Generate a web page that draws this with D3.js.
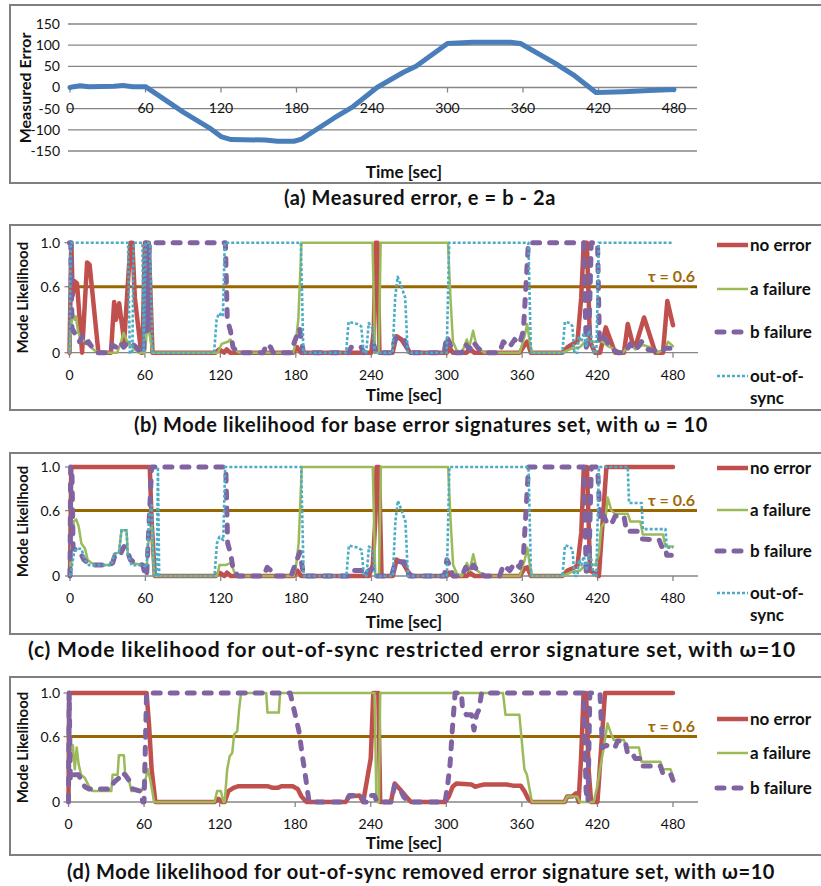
<!DOCTYPE html>
<html>
<head>
<meta charset="utf-8">
<script src="https://cdn.jsdelivr.net/npm/d3@7"></script>
<style>
  body { margin: 0; background: #fff; }
  svg { display: block; font-family: Lato, "Open Sans", sans-serif; }
</style>
</head>
<body>
<svg width="821" height="886"></svg>
<script>
const svg = d3.select("svg");

// ---- data ----
const timeTicks = [0, 60, 120, 180, 240, 300, 360, 420, 480];
const errorTicks = [-150, -100, -50, 0, 50, 100, 150];
const likeTicks = [0, 0.6, 1.0];
const tau = 0.6;
const seriesNames = ["no error", "a failure", "b failure", "out-of-sync"];

// (a) measured error [t, e]
const measuredError = [[0,0],[3,2],[8,4],[15,2],[35,3],[42,5],[50,2],[60,2],[90,-58],[112,-98],[120,-116],[128,-123],
  [155,-124],[165,-127],[178,-127],[184,-122],[210,-72],[225,-45],[244,0],[265,36],[275,50],[300,104],[320,107],
  [350,107],[358,104],[385,58],[400,30],[418,-12],[440,-10],[460,-7],[480,-5]];

// (b) base error signatures set
const bNoError = [[0,0],[1.5,1],[2.5,0.52],[4,0.65],[6,0.63],[10,0],[14,0.82],[16,0.8],[23,0],[33,0],[35.5,0.46],[37,0.3],
  [39.5,0.45],[43.5,0.1],[48.5,1],[50,1],[52,0.5],[57,0],[58,0],[60,1],[63,1],[66,0],[116,0],[119,0.03],[123,0],[125,0.03],
  [128,0],[178,0],[181,0.05],[184,0],[240,0],[242,0.2],[243.5,1],[245,1],[246.5,0],[257,0],[260,0.15],[264,0.12],[268,0.05],
  [271,0],[300,0],[302,0.05],[305,0],[316,0],[318,0.04],[322,0],[358,0],[362,0.07],[364,0.1],[367,0],[392,0],[396,0.05],
  [402,0.09],[404,0.1],[407,0.5],[409,1],[411.5,1],[414,0.1],[418,0],[422,0],[426.5,0.23],[434,0],[441,0],[444,0.26],
  [448,0.08],[450,0.05],[457,0.32],[466,0],[472,0],[475.5,0.47],[480,0.25]];
const bAFailure = [[0,0],[1,0.2],[2.5,0.37],[4,0.3],[5,0.33],[7,0.18],[10,0.12],[14,0.08],[20,0.02],[24,0],[38,0],[41,0.1],
  [43,0.18],[46,0.1],[50,0.05],[55,0],[60,0],[62,0.25],[64,0.15],[66,0],[118,0],[121,0.08],[126,0.1],[128,0.12],[131,0.03],
  [135,0],[178,0],[180,0.1],[182,0.3],[184.5,1],[241,1],[243,0],[246,0],[247.5,1],[301,1],[303,0.5],[305,0.1],[308,0.02],
  [312,0],[316,0.12],[318,0.05],[321,0.2],[324,0.05],[330,0],[358,0],[362,0.15],[364,0.26],[366,0.1],[368,0],[392,0],
  [400,0.04],[406,0.05],[410,0.1],[418,0.1],[424,0.1],[428,0.06],[434,0.03],[440,0],[446,0.08],[450,0.03],[456,0.07],
  [462,0.05],[468,0],[474,0.04],[476,0.1],[480,0.06]];
const bBFailure = [[0,1],[1,1],[2,0.22],[4,0.18],[6,0.15],[8,0.1],[10,0.15],[12,0.08],[15,0.1],[18,0.05],[22,0],[32,0],
  [34,0.07],[37,0.05],[40,0.1],[43,0.05],[47,0.1],[50,0.08],[53,0.05],[57,0],[59,0],[61,1],[62,0.2],[63.5,1],[124,1],
  [125.5,0.3],[128,0.2],[130,0.05],[134,0],[154,0],[157,0.08],[160,0.05],[162,0],[176,0],[179,0.1],[183,0.22],[186,0],
  [222,0],[224,0.05],[232,0.05],[234,0],[238,0.05],[242,0.07],[244,0],[256,0],[259,0.13],[266,0.13],[270,0],[298,0],
  [300,0.15],[302,0.1],[305,0],[312,0],[315,0.08],[318,0.03],[321,0.1],[325,0.04],[330,0],[342,0],[345,0.1],[350,0.05],
  [354,0.12],[358,0.08],[361,0.2],[365,1],[409,1],[411,0.05],[413,0.1],[415,1],[420,1],[421.5,0.1],[425,0.15],[430,0.05],
  [436,0],[442,0],[446,0.08],[450,0.02],[455,0.1],[460,0.03],[465,0.02],[470,0],[474,0.04],[480,0.04]];
const bOutOfSync = [[0,0],[1,1],[46.5,1],[48,0],[50,0],[51,1],[58,1],[59,0],[60.5,1],[64,1],[66,0],[115,0],[117,0.3],
  [119,0.36],[122,0.33],[123.5,1],[184,1],[186,0],[220,0],[222,0.28],[229,0.26],[232,0.24],[234,0],[236,0],[238,0.27],
  [241,0.22],[243,0],[257,0],[259,0.5],[261,0.69],[264,0.6],[267,0.5],[269,0],[300,0],[302,1],[365,1],[367,0],[392,0],
  [394,0.28],[398,0.27],[400,0.24],[401.5,0],[404,0],[405,0.15],[407,0.1],[409,0.18],[411,0.05],[413,0.2],[415,0.15],
  [417,0],[419,0],[421,1],[480,1]];

// (c) out-of-sync restricted error signature set
const cNoError = [[0,0],[1,1],[63.5,1],[65,0.5],[67.5,0],[116,0],[119,0.03],[123,0],[125,0.03],[128,0],[178,0],[181,0.05],
  [184,0],[238,0],[241,0.1],[243,0.5],[244,1],[246,1],[248,0],[257,0],[260,0.15],[265,0.12],[269,0.04],[272,0],[300,0],
  [302,0.03],[305,0],[316,0],[318,0.03],[322,0],[358,0],[362,0.07],[364,0.08],[367,0],[392,0],[396,0.05],[402,0.08],
  [404,0.1],[407,0.4],[409,1],[411.5,1],[414,0.05],[421,0],[424,0.5],[427,1],[480,1]];
const cAFailure = [[0,0],[1,0.3],[3,0.5],[5,0.52],[7,0.45],[9,0.3],[12,0.25],[14,0.15],[17,0.12],[22,0.1],[33,0.1],[35,0.2],
  [39,0.22],[41,0.42],[45,0.42],[46,0.2],[49,0.12],[58,0.1],[61,0.08],[63,0.4],[65,0.45],[67,0],[117,0],[119,0.1],[124,0.1],
  [128,0.12],[131,0.03],[134,0],[178,0],[180,0.1],[182,0.3],[184.5,1],[241,1],[243,0],[246,0],[247.5,1],[301,1],[303,0.5],
  [305,0.1],[308,0.02],[312,0],[316,0.12],[318,0.05],[321,0.2],[324,0.05],[330,0],[358,0],[362,0.15],[364,0.26],[366,0.1],
  [368,0],[392,0],[400,0.04],[406,0.05],[410,0.1],[418,0.1],[421,0.2],[423,0.45],[426,0.5],[428,0.72],[431,0.6],[434,0.57],
  [444,0.57],[446,0.5],[454,0.5],[456,0.38],[472,0.38],[474,0.27],[480,0.27]];
const cBFailure = [[0,0],[0.5,1],[1.5,1],[2.5,0.25],[5,0.24],[8,0.22],[11,0.15],[14,0.12],[20,0.1],[30,0.1],[34,0.12],
  [36,0.2],[40,0.2],[43,0.27],[46,0.22],[48,0.15],[52,0.12],[58,0.1],[60,0],[61,0],[63,0.5],[65,1],[124,1],[125.5,0.3],
  [128,0.2],[130,0.05],[134,0],[154,0],[157,0.08],[160,0.05],[162,0],[176,0],[179,0.1],[183,0.22],[186,0],[222,0],
  [224,0.05],[232,0.05],[234,0],[238,0.05],[242,0.07],[244,0],[256,0],[259,0.13],[266,0.13],[270,0],[298,0],[300,0.15],
  [302,0.1],[305,0],[312,0],[315,0.08],[318,0.03],[321,0.1],[325,0.04],[330,0],[342,0],[345,0.1],[350,0.05],[354,0.12],
  [358,0.08],[361,0.2],[365,1],[409,1],[411,0],[413,0.1],[415,1],[420,1],[422,0.5],[425,0.55],[428,0.47],[432,0.5],
  [434,0.55],[441,0.55],[443,0.41],[452,0.41],[455,0.34],[469,0.33],[471,0.27],[474,0.27],[475,0.19],[480,0.19]];
const cOutOfSync = [[0,0],[1,0.05],[3,0.2],[5,0.25],[9,0.25],[12,0.15],[15,0.1],[33,0.1],[35,0.2],[39,0.22],[41,0.42],
  [45,0.42],[46,0.2],[49,0.1],[58,0.1],[61,0.08],[63,0.55],[65,0.65],[67,0],[69,0],[70,1],[71,0],[115,0],[117,0.3],
  [119,0.36],[122,0.33],[123.5,1],[184,1],[186,0],[220,0],[222,0.28],[229,0.26],[232,0.24],[234,0],[236,0],[238,0.27],
  [241,0.22],[243,0],[257,0],[259,0.5],[261,0.69],[264,0.6],[267,0.5],[269,0],[300,0],[302,1],[365,1],[367,0],[392,0],
  [394,0.28],[398,0.27],[400,0.24],[401.5,0],[404,0],[405,0.15],[407,0.1],[409,0.18],[411,0.05],[413,0.2],[415,0.15],
  [417,0],[419,0],[421,1],[444,1],[445,0.67],[455,0.67],[456,0.43],[474,0.43],[475,0.26],[480,0.26]];

// (d) out-of-sync removed error signature set
const dNoError = [[0,0],[0.5,1],[62,1],[64,0.7],[66,0.3],[69,0],[116,0],[119,0.03],[122,0],[124,0],[127,0.1],[131,0.13],
  [135,0.145],[158,0.145],[162,0.13],[166,0.13],[169,0.145],[178,0.145],[182,0.12],[185,0.05],[189,0],[220,0],[223,0.05],
  [231,0.06],[234,0],[237,0.2],[240,0.4],[242,1],[246,1],[247.5,0],[256,0],[259,0.17],[263,0.12],[268,0.05],[272,0],
  [299,0],[302,0.05],[305,0.14],[308,0.17],[320,0.16],[323,0.14],[326,0.15],[330,0.16],[348,0.16],[353,0.15],[359,0.15],
  [362,0.1],[365,0.03],[368,0],[394,0],[396,0.05],[400,0.05],[403,0.08],[405,0],[407,0.4],[409,1],[411,1],[413,0.3],
  [415,0],[420,0],[423,0.5],[426,1],[480,1]];
const dAFailure = [[0,0.9],[1,0.7],[2,0.4],[3.5,0.52],[5,0.3],[6.5,0.5],[8,0.35],[10,0.25],[13,0.22],[16,0.15],[19,0.1],
  [34,0.1],[35,0.25],[39,0.25],[40,0.43],[44,0.43],[45,0.25],[48,0.2],[50,0.1],[58,0.1],[61,0.2],[63,0.3],[65,0.2],[68,0],
  [116,0],[118,0.1],[121,0.1],[123,0],[124,0],[126,0.3],[128,0.42],[130,0.45],[131.5,0.62],[134,0.65],[135.5,0.85],[137,1],
  [157,1],[158,0.82],[167,0.82],[168,1],[243,1],[244.5,0],[246.5,0],[247.5,1],[345,1],[347,0.8],[358,0.8],[362,0.3],
  [364,0.25],[368,0],[394,0],[396,0.05],[404,0.05],[406,0],[417,0],[420,0.15],[422,0.3],[425,0.5],[428,0.72],[431,0.62],
  [433,0.57],[441,0.57],[443,0.5],[453,0.5],[455,0.37],[470,0.37],[472,0.3],[478,0.3],[480,0.24]];
const dBFailure = [[0,0],[0.5,1],[1.5,0.2],[3,0.25],[8,0.25],[10,0.2],[13,0.14],[16,0.12],[34,0.12],[36,0.18],[40,0.22],
  [42,0.27],[45,0.25],[48,0.2],[51,0.12],[57,0.1],[59,0],[60,0],[62,1],[176,1],[179,0.85],[183,0.65],[186,0.4],[188,0.25],
  [191,0],[220,0],[223,0.06],[233,0.06],[235,0],[238,0],[240,0.06],[243,0.06],[245,0],[256,0],[259,0.15],[263,0.13],
  [266,0.05],[270,0],[299,0],[301,0.15],[303,0.35],[305,0.7],[307,1],[312,1],[313,0.84],[316,0.8],[320,0.8],[322,0.66],
  [324,0.8],[326,0.85],[328,1],[409,1],[411,0.1],[412.5,0],[414,1],[422,1],[424,0.5],[427,0.52],[431,0.5],[434,0.5],
  [436,0.56],[442,0.56],[444,0.44],[448,0.44],[450,0.4],[455,0.4],[456,0.33],[470,0.33],[472,0.26],[478,0.26],[480,0.2]];

// ---- styles ----
const styles = [
  { color: "#C0504D", width: 4.5, dash: null, cap: "round" },
  { color: "#9BBB59", width: 2.5, dash: null, cap: "round" },
  { color: "#8064A2", width: 5, dash: "7,10", cap: "round" },
  { color: "#4BACC6", width: 2.6, dash: "3,2", cap: "butt" }
];
const gridColor = "#868686";
const tauColor = "#996600";
const tickSize = 14;

function box(y0, y1) {
  svg.append("rect").attr("x", 10).attr("y", y0).attr("width", 830).attr("height", y1 - y0)
    .attr("fill", "none").attr("stroke", "#7F7F7F").attr("stroke-width", 2);
}

function caption(text, cx, y, size, spacing) {
  svg.append("text").attr("x", cx).attr("y", y).attr("text-anchor", "middle")
    .attr("font-size", size || 20).attr("letter-spacing", spacing || 0.6)
    .attr("font-weight", "bold").attr("fill", "#111").text(text);
}

function xAxisLabels(x, y) {
  svg.append("g").selectAll("text").data(timeTicks).join("text")
    .attr("x", d => x(d)).attr("y", y).attr("text-anchor", "middle")
    .attr("font-size", tickSize).attr("fill", "#111").text(d => d);
}

function timeTitle(y) {
  svg.append("text").attr("x", 404).attr("y", y).attr("text-anchor", "middle")
    .attr("font-size", 17).attr("font-weight", "bold").attr("fill", "#111").text("Time [sec]");
}

function yTitle(text, cx, cy, size) {
  svg.append("text").attr("transform", `translate(${cx},${cy}) rotate(-90)`)
    .attr("text-anchor", "middle").attr("dy", "0.35em")
    .attr("font-size", size).attr("font-weight", "bold").attr("fill", "#111").text(text);
}

// ---- panel (a) ----
box(5, 183);
const xa = d3.scaleLinear().domain([0, 480]).range([70, 674]);
const ya = d3.scaleLinear().domain([-150, 150]).range([151, 24]);
svg.append("g").selectAll("line").data(errorTicks).join("line")
  .attr("x1", 68).attr("x2", 697).attr("y1", d => ya(d)).attr("y2", d => ya(d))
  .attr("stroke", gridColor).attr("stroke-width", 1.3);
svg.append("g").selectAll("line").data(timeTicks).join("line")
  .attr("x1", d => xa(d)).attr("x2", d => xa(d)).attr("y1", ya(0)).attr("y2", ya(0) + 5)
  .attr("stroke", gridColor).attr("stroke-width", 1.3);
svg.append("g").selectAll("text").data(errorTicks).join("text")
  .attr("x", 60).attr("y", d => ya(d)).attr("dy", "0.35em").attr("text-anchor", "end")
  .attr("font-size", tickSize).attr("fill", "#111").text(d => d);
xAxisLabels(xa, 113);
svg.append("path").datum(measuredError)
  .attr("d", d3.line().x(d => xa(d[0])).y(d => ya(d[1])))
  .attr("fill", "none").attr("stroke", "#4A7EBB").attr("stroke-width", 5)
  .attr("stroke-linejoin", "round").attr("stroke-linecap", "round");
yTitle("Measured Error", 25, 88, 16);
timeTitle(178);
caption("(a) Measured error, e = b - 2a", 420, 205);

// ---- likelihood panels ----
function likelihoodPanel(p) {
  box(p.top, p.bottom);
  const x = d3.scaleLinear().domain([0, 480]).range([p.x0, 673]);
  const y = d3.scaleLinear().domain([0, 1]).range([p.y0, p.y1]);

  // axes
  svg.append("line").attr("x1", p.x0).attr("x2", 698).attr("y1", y(0)).attr("y2", y(0))
    .attr("stroke", gridColor).attr("stroke-width", 1.3);
  svg.append("line").attr("x1", p.x0).attr("x2", p.x0).attr("y1", y(0)).attr("y2", y(1))
    .attr("stroke", gridColor).attr("stroke-width", 1.3);
  svg.append("g").selectAll("line").data(timeTicks).join("line")
    .attr("x1", d => x(d)).attr("x2", d => x(d)).attr("y1", y(0)).attr("y2", y(0) + 5)
    .attr("stroke", gridColor).attr("stroke-width", 1.3);
  svg.append("g").selectAll("line").data(likeTicks).join("line")
    .attr("x1", p.x0 - 5).attr("x2", p.x0).attr("y1", d => y(d)).attr("y2", d => y(d))
    .attr("stroke", gridColor).attr("stroke-width", 1.3);
  svg.append("g").selectAll("text").data(likeTicks).join("text")
    .attr("x", 60).attr("y", d => y(d)).attr("dy", "0.35em").attr("text-anchor", "end")
    .attr("font-size", tickSize).attr("fill", "#111").text(d => d === 0 ? "0" : d.toFixed(1));
  xAxisLabels(x, y(0) + 27);

  // threshold
  svg.append("line").attr("x1", p.x0 - 1).attr("x2", 697).attr("y1", y(tau)).attr("y2", y(tau))
    .attr("stroke", tauColor).attr("stroke-width", 3);
  svg.append("text").attr("x", 695).attr("y", y(tau) - 5).attr("text-anchor", "end")
    .attr("font-size", 16).attr("font-weight", "bold").attr("fill", "#A06A08").text("τ = " + tau);

  // series
  const line = d3.line().x(d => x(d[0])).y(d => y(d[1]));
  p.series.forEach((s, i) => {
    if (!s) return;
    const st = styles[i];
    svg.append("path").datum(s).attr("d", line)
      .attr("fill", "none").attr("stroke", st.color).attr("stroke-width", st.width)
      .attr("stroke-dasharray", st.dash).attr("stroke-linecap", st.cap)
      .attr("stroke-linejoin", "round");
  });

  // legend
  p.series.forEach((s, i) => {
    if (!s) return;
    const st = styles[i];
    const ly = p.legendY[i];
    svg.append("line").attr("x1", 717).attr("x2", 748).attr("y1", ly).attr("y2", ly)
      .attr("stroke", st.color).attr("stroke-width", st.width)
      .attr("stroke-dasharray", st.dash).attr("stroke-linecap", i === 2 ? "round" : "butt");
    const t = svg.append("text").attr("x", 750).attr("y", ly + 6)
      .attr("font-size", 17).attr("font-weight", "bold").attr("fill", "#111");
    if (i === 3) {
      t.text("out-of-");
      svg.append("text").attr("x", 750).attr("y", ly + 28)
        .attr("font-size", 17).attr("font-weight", "bold").attr("fill", "#111").text("sync");
    } else {
      t.text(seriesNames[i]);
    }
  });

  yTitle("Mode Likelihood", 23, (p.y0 + p.y1) / 2, 15);
  timeTitle(p.titleY);
  caption(p.caption, p.capX, p.capY, p.capSize, p.capSpacing);
}

likelihoodPanel({
  top: 225, bottom: 410, x0: 69.5, y0: 352.7, y1: 242.7,
  series: [bNoError, bAFailure, bBFailure, bOutOfSync],
  legendY: [245, 289, 332, 376], titleY: 401,
  caption: "(b) Mode likelihood for base error signatures set, with ω = 10", capX: 421, capY: 432
});
likelihoodPanel({
  top: 453, bottom: 634, x0: 70, y0: 576, y1: 467,
  series: [cNoError, cAFailure, cBFailure, cOutOfSync],
  legendY: [468, 510, 551, 593], titleY: 628,
  caption: "(c) Mode likelihood for out-of-sync restricted error signature set, with ω=10", capX: 412, capY: 657,
  capSize: 21, capSpacing: 0.85
});
likelihoodPanel({
  top: 677, bottom: 855, x0: 68.5, y0: 802, y1: 693,
  series: [dNoError, dAFailure, dBFailure, null],
  legendY: [719, 753, 788], titleY: 849,
  caption: "(d) Mode likelihood for out-of-sync removed error signature set, with ω=10", capX: 421, capY: 879
});
</script>
</body>
</html>
